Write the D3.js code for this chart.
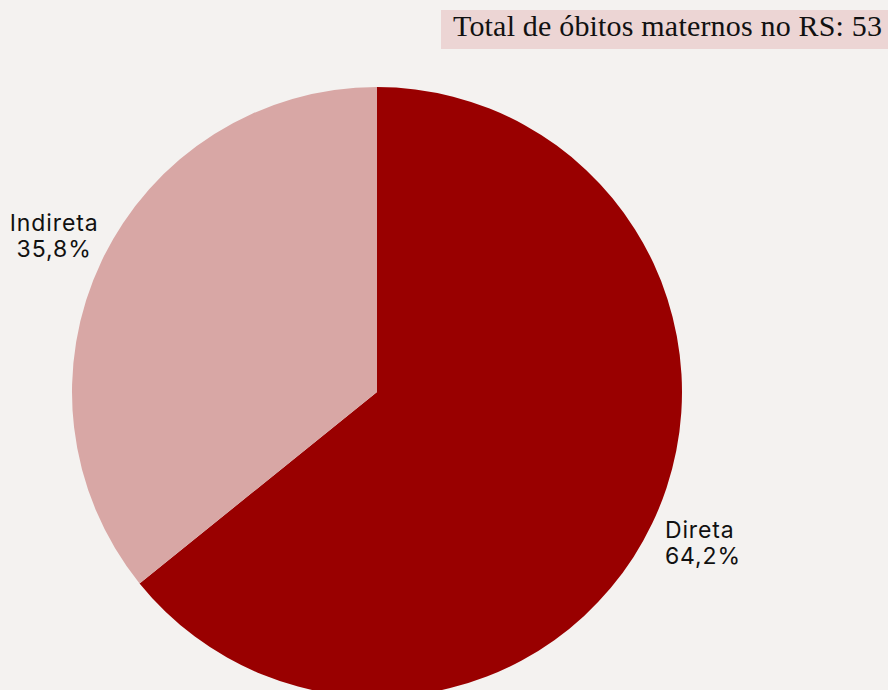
<!DOCTYPE html>
<html>
<head>
<meta charset="utf-8">
<script src="https://cdn.jsdelivr.net/npm/d3@7"></script>
<style>
  html, body { margin: 0; padding: 0; background: #f4f2f0; }
  svg { display: block; }
</style>
</head>
<body>
<svg id="chart" width="888" height="690"></svg>
<script>
// Óbitos maternos no RS por tipo de causa
const categories = ["Direta", "Indireta"];
const values = [64.2, 35.8];
const colors = ["#990000", "#d8a7a5"];
const totalLabel = "Total de óbitos maternos no RS: 53";

const width = 888, height = 690;
const cx = 377, cy = 392, radius = 305;

const svg = d3.select("#chart");

svg.append("rect")
  .attr("width", width).attr("height", height)
  .attr("fill", "#f4f2f0");

const data = categories.map((c, i) => ({ name: c, value: values[i], color: colors[i] }));

const pie = d3.pie().sort(null).value(d => d.value);
const arc = d3.arc().innerRadius(0).outerRadius(radius);
const labelArc = d3.arc().innerRadius(318).outerRadius(318);

const g = svg.append("g").attr("transform", `translate(${cx},${cy})`);
const arcs = pie(data);

g.selectAll("path")
  .data(arcs)
  .join("path")
  .attr("d", arc)
  .attr("fill", d => d.data.color);

const fmt = v => d3.format(".1f")(v).replace(".", ",") + "%";

g.selectAll("text.lbl")
  .data(arcs)
  .join("text")
  .attr("class", "lbl")
  .attr("font-family", "Inter, 'Noto Sans', sans-serif")
  .attr("font-size", 23)
  .attr("letter-spacing", 0.9)
  .attr("fill", "#111")
  .each(function(d) {
    const [x, y] = labelArc.centroid(d);
    const right = x > 0;
    const t = d3.select(this)
      .attr("text-anchor", right ? "start" : "middle")
      .attr("transform", right ? `translate(${x + 1},${y + 9})` : `translate(${x - 36},${y - 24})`);
    t.append("tspan").attr("x", 0).attr("dy", 0).text(d.data.name);
    t.append("tspan").attr("x", 0).attr("dy", 26).text(fmt(d.data.value));
  });

// Caixa com o total
const title = svg.append("g");
title.append("rect")
  .attr("x", 441).attr("y", 10).attr("width", 447).attr("height", 39)
  .attr("fill", "#ecd5d4");
title.append("text")
  .attr("x", 453).attr("y", 36)
  .attr("font-family", "'Liberation Serif', serif")
  .attr("font-size", 30)
  .attr("textLength", 429)
  .attr("lengthAdjust", "spacing")
  .attr("fill", "#111")
  .text(totalLabel);
</script>
</body>
</html>
